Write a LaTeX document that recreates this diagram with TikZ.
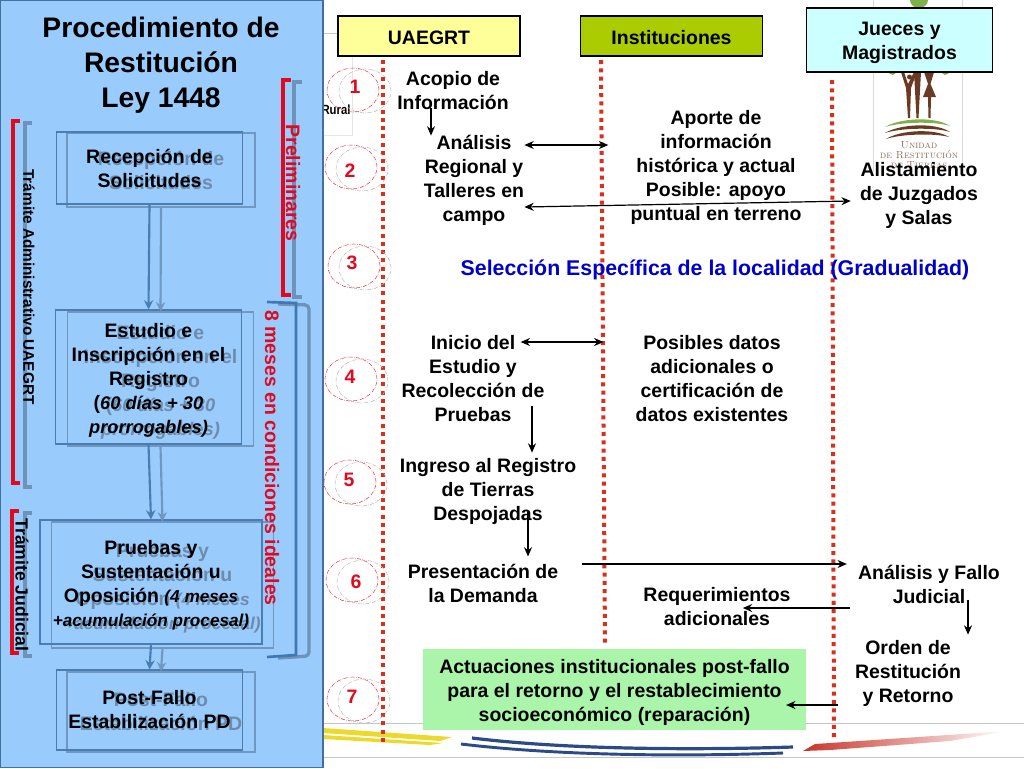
\documentclass[tikz,border=0pt]{standalone}
\usepackage{fontspec}
\setsansfont{Liberation Sans}
\usepackage{xcolor}
\usepackage{tikz}
\usetikzlibrary{arrows.meta, calc, shapes.geometric}

\definecolor{panelblue}{HTML}{9ACBFD}
\definecolor{panelline}{HTML}{44709E}
\definecolor{boxline}{HTML}{4A7DB3}
\definecolor{ghostline}{HTML}{6F97C0}
\definecolor{ghosttext}{HTML}{6D8CAB}
\definecolor{lanered}{HTML}{D8301C}
\definecolor{bracketred}{HTML}{E00A20}
\definecolor{bracketgray}{HTML}{6E93B8}
\definecolor{bracketblue}{HTML}{3F78B4}
\definecolor{logobrown}{HTML}{6B3A22}
\definecolor{logotext}{HTML}{8C6C58}
\definecolor{logogreen}{HTML}{7FB04A}
\definecolor{pencilyellow}{HTML}{EBD92C}
\definecolor{pencilblue}{HTML}{2B4A86}
\definecolor{pencilred}{HTML}{C8342A}

\newcommand{\bodysize}{\fontsize{14.6}{18}\selectfont}
\newcommand{\noteA}[1]{{\itshape\fontsize{13.7}{18}\selectfont #1}}
\newcommand{\noteB}[1]{{\itshape\fontsize{12.9}{18}\selectfont #1}}
\newcommand{\topstrut}{\rule{0pt}{15pt}}

\tikzset{
  flowtext/.style={align=center, inner sep=0pt, font=\sffamily\bfseries\bodysize},
  procbox/.style={draw=boxline, line width=0.8pt, align=center, inner sep=0pt, text=black, font=\sffamily\bfseries\bodysize},
  ghostbox/.style={draw=ghostline, line width=0.8pt, align=center, inner sep=0pt, text=ghosttext, font=\sffamily\bfseries\bodysize},
  lanebox/.style={draw=black, line width=0.8pt, align=center, inner sep=0pt, font=\sffamily\bfseries\bodysize},
  ring/.style={draw=bracketred!80, ellipse, densely dashdotted, line width=0.4pt, inner sep=0pt, minimum width=39pt, minimum height=33pt},
  ghostring/.style={draw=gray!55, ellipse, densely dashdotted, line width=0.4pt, inner sep=0pt, minimum width=39pt, minimum height=33pt},
  stepnum/.style={text=bracketred, inner sep=0pt, font=\sffamily\bfseries\bodysize},
  sidelabel/.style={rotate=-90, inner sep=0pt, font=\sffamily\bfseries},
  flowarrow/.style={line width=1.6pt, draw=boxline, -{Stealth[length=7pt, width=7pt]}},
  ghostarrow/.style={line width=1.6pt, draw=ghostline, -{Stealth[length=7pt, width=7pt]}},
  lanearrow/.style={line width=0.9pt, draw=black},
  laneline/.style={draw=lanered, line width=3pt, dash pattern=on 3pt off 3.2pt},
  bgline/.style={draw=gray!45, line width=0.6pt}
}

\begin{document}
\begin{tikzpicture}[x=0.75pt, y=-0.75pt, >={Stealth[length=7pt, width=6pt]}]
    \useasboundingbox (0,0) rectangle (1024,768);

    % slide behind the chart
    \draw[bgline] (323,33) -- (340,33);
    \draw[gray!20, line width=0.6pt] (352,33) -- (352,135) -- (323,135);
    \draw[bgline] (323,723) -- (1024,723);
    \draw[bgline] (323,757) -- (1024,757);
    \node[inner sep=0pt, xscale=0.85, font=\sffamily\bfseries\fontsize{10}{11}\selectfont] (rural) at (336,110) {Rural};

    % logo
    \draw[gray!30, line width=0.5pt] (873,0) -- (873,172);
    \draw[gray!30, line width=0.5pt] (962,0) -- (962,172);
    \fill[logogreen] (919,0) ellipse (9 and 8);
    \fill[logogreen] (886,72) -- (897,72) -- (893,75) -- cycle;
    \fill[logogreen] (940,72) -- (951,72) -- (945,75) -- cycle;
    \fill[logobrown] (901,72) -- (904,72) -- (908,84) -- (914,72) -- (917,72) -- (911,88) -- (910,118) -- (908,118) -- (906,88) -- cycle;
    \fill[logobrown] (909.5,77) circle (2.5);
    \fill[logobrown] (914,72) -- (921,72) -- (918.5,118) -- (916.5,118) -- cycle;
    \fill[logobrown] (924,72) -- (934,72) -- (930.5,84) -- (936,97) -- (931,97) -- (930.5,118) -- (928.5,118) -- (928,97) -- (923,97) -- (928,84) -- cycle;
    \fill[logogreen] (885,127) .. controls (900,118) and (935,116) .. (950,126) .. controls (935,121) and (900,122) .. (885,127) -- cycle;
    \fill[logobrown] (885,133) .. controls (900,124) and (935,122) .. (950,132) .. controls (935,127) and (900,128) .. (885,133) -- cycle;
    \fill[logobrown] (886,139) .. controls (900,130) and (935,128) .. (949,137) .. controls (935,133) and (900,134) .. (886,139) -- cycle;
    \node[align=center, inner sep=0pt, text=logotext, font=\rmfamily\scshape\fontsize{7.7}{7.6}\selectfont] (logotxt) at (919,155) {Unidad\\de Restitución\\de Tierras};

    % pencil strokes along the foot of the slide
    \fill[pencilyellow] (323,728) -- (452,737) -- (440,741) -- (323,733) -- cycle;
    \fill[pencilyellow] (323,735) -- (443,743) -- (430,745) -- (323,739) -- cycle;
    \draw[pencilblue, line width=2.4pt] (472,738) .. controls (570,750) and (700,750) .. (793,747);
    \draw[pencilblue, line width=2.2pt] (461,744) .. controls (570,757) and (700,756) .. (783,753);
    \shade[left color=pencilred, middle color=pencilred!85, right color=white] (803,751) -- (815,744) -- (1007,731) -- (950,741) -- (830,750) -- cycle;

    % left panel
    \fill[panelblue] (0,0) rectangle (323,768);
    \draw[panelline, line width=1.2pt] (0.5,0.5) rectangle (323,767.5);
    \node[align=center, inner sep=0pt, font=\sffamily\bfseries\fontsize{21.2}{26.2}\selectfont] (title) at (161,65)
    {Procedimiento de\\Restitución\\Ley 1448};

    \node[ghostbox, minimum width=141pt, minimum height=55.5pt] (recepcionb) at (161,170)
    {Recepción de\\Solicitudes};
    \node[ghostbox, minimum width=140pt, minimum height=100.5pt] (estudiob) at (160.5,379)
    {\topstrut Estudio e\\Inscripción en el\\Registro\\(\noteA{60 días + 30}\\\noteA{prorrogables)}};
    \node[ghostbox, minimum width=167pt, minimum height=94.5pt] (pruebasb) at (162.5,585)
    {\topstrut Pruebas y\\Sustentación u\\Oposición \noteB{(4 meses}\\\noteB{+acumulación procesal)}};
    \node[ghostbox, minimum width=141pt, minimum height=60pt] (postb) at (161,712)
    {Post-Fallo\\Estabilización PD};

    \node[procbox, minimum width=140pt, minimum height=54pt] (recepcion) at (149.5,168)
    {Recepción de\\Solicitudes};
    \node[procbox, minimum width=140pt, minimum height=100.5pt] (estudio) at (148.5,377)
    {\topstrut Estudio e\\Inscripción en el\\Registro\\(\noteA{60 días + 30}\\\noteA{prorrogables)}};
    \node[procbox, minimum width=166.5pt, minimum height=93pt] (pruebas) at (151,582)
    {\topstrut Pruebas y\\Sustentación u\\Oposición \noteB{(4 meses}\\\noteB{+acumulación procesal)}};
    \node[procbox, minimum width=140pt, minimum height=60pt] (post) at (149.5,710)
    {Post-Fallo\\Estabilización PD};

    \draw[ghostarrow] (recepcionb.south) -- (estudiob.north);
    \draw[ghostarrow] (estudiob.south) -- (pruebasb.north);
    \draw[ghostarrow] (pruebasb.south) -- (postb.north);
    \draw[flowarrow] (recepcion.south) -- (estudio.north);
    \draw[flowarrow] (estudio.south) -- (pruebas.north);
    \draw[flowarrow] (pruebas.south) -- (post.north);

    % brackets and side labels
    \draw[bracketgray, line width=2.5pt] (32,123) -- (25,123) -- (25,487) -- (32,487);
    \draw[bracketred, line width=2.3pt] (20,121) -- (13,121) -- (13,483) -- (20,483);
    \draw[bracketgray, line width=2.5pt] (32,513) -- (25,513) -- (25,656) -- (32,656);
    \draw[bracketred, line width=2.3pt] (19,511) -- (12,511) -- (12,653) -- (19,653);
    \draw[bracketgray, line width=2.5pt] (302,82) -- (294,82) -- (294,297) -- (302,297);
    \draw[bracketred, line width=2.3pt] (291,80) -- (283,80) -- (283,295) -- (291,295);
    \draw[bracketgray, line width=2.5pt, rounded corners=3pt] (278,304) -- (309,305) -- (309,656) -- (278,658);
    \draw[bracketblue, line width=2pt] (267,302) -- (296,303) -- (296,655) -- (267,657);
    \node[sidelabel, font=\sffamily\bfseries\fontsize{11.5}{14}\selectfont] (tramiteadmin) at (29,287) {Trámite Administrativo UAEGRT};
    \node[sidelabel, font=\sffamily\bfseries\fontsize{13.2}{16}\selectfont] (tramitejud) at (22,585) {Trámite Judicial};
    \node[sidelabel, text=bracketred, font=\sffamily\bfseries\bodysize] (preliminares) at (293,183) {Preliminares};
    \node[sidelabel, text=bracketred, font=\sffamily\bfseries\bodysize] (ochomeses) at (272,458) {8 meses en condiciones ideales};

    % lanes
    \node[lanebox, fill={rgb,255:red,255;green,255;blue,153}, minimum width=136.5pt, minimum height=30pt, text height=13pt] (uaegrt) at (429,36) {UAEGRT};
    \node[lanebox, fill={rgb,255:red,170;green,204;blue,0}, minimum width=136.5pt, minimum height=30pt, text height=13pt] (instituciones) at (671.5,36) {Instituciones};
    \node[lanebox, fill={rgb,255:red,204;green,255;blue,255}, minimum width=139pt, minimum height=48pt] (jueces) at (899.5,40) {\topstrut Jueces y\\Magistrados};
    \draw[laneline] (383,60) -- (383,745);
    \draw[laneline] (601,60) -- (605,645);
    \draw[laneline] (832,80) -- (834,741);

    % numbered steps
    \node[ghostring] (ringb1) at (365,91) {};
    \node[ring] (ring1) at (353,90) {};
    \node[stepnum] (num1) at (355,87) {1};
    \node[ghostring] (ringb2) at (362,169) {};
    \node[ring] (ring2) at (351,167) {};
    \node[stepnum] (num2) at (350,171) {2};
    \node[ghostring] (ringb3) at (365,268) {};
    \node[ring] (ring3) at (354,266) {};
    \node[stepnum] (num3) at (352,263) {3};
    \node[ghostring] (ringb4) at (362,381) {};
    \node[ring] (ring4) at (351,379) {};
    \node[stepnum] (num4) at (350,377) {4};
    \node[ghostring] (ringb5) at (361,484) {};
    \node[ring] (ring5) at (350,482) {};
    \node[stepnum] (num5) at (349,480) {5};
    \node[ghostring] (ringb6) at (363,582) {};
    \node[ring] (ring6) at (352,580) {};
    \node[stepnum] (num6) at (356,582) {6};
    \node[ghostring] (ringb7) at (364,701) {};
    \node[ring] (ring7) at (353,699) {};
    \node[stepnum] (num7) at (352,697) {7};

    % activities
    \node[flowtext] (acopio) at (453,91) {Acopio de\\Información};
    \node[flowtext] (analisis) at (474,180) {Análisis\\Regional y\\Talleres en\\campo};
    \node[flowtext] (aporte) at (716,167) {Aporte de\\información\\histórica y actual\\Posible: apoyo\\puntual en terreno};
    \node[flowtext] (alistamiento) at (919,195) {Alistamiento\\de Juzgados\\y Salas};
    \node[flowtext, text={rgb,255:red,0;green,0;blue,204}, font=\sffamily\bfseries\fontsize{16}{18}\selectfont] (seleccion) at (715,270) {Selección Específica de la localidad (Gradualidad)};
    \node[flowtext] (inicio) at (473,379) {Inicio del\\Estudio y\\Recolección de\\Pruebas};
    \node[flowtext] (posibles) at (712,379) {Posibles datos\\adicionales o\\certificación de\\datos existentes};
    \node[flowtext] (ingreso) at (488,491) {Ingreso al Registro\\de Tierras\\Despojadas};
    \node[flowtext] (presentacion) at (483,583) {Presentación de\\la Demanda};
    \node[flowtext] (fallo) at (929,584) {Análisis y Fallo\\Judicial};
    \node[flowtext] (requerimientos) at (717,607) {Requerimientos\\adicionales};
    \node[flowtext] (orden) at (908,673) {Orden de\\Restitución\\y Retorno};
    \node[flowtext, fill={rgb,255:red,170;green,245;blue,170}, minimum width=287pt, minimum height=61pt] (posfallo) at (614.5,689.5)
    {\topstrut Actuaciones institucionales post-fallo\\para el retorno y el restablecimiento\\socioeconómico (reparación)};

    \draw[lanearrow, ->] ($(acopio.south)+(-22,-2)$) -- ($(analisis.north)+(-43,1)$);
    \draw[lanearrow, <->] ($(analisis.east)+(0,-35)$) -- ($(aporte.west)+(-22,-22)$);
    \draw[lanearrow, <->] ($(analisis.east)+(0,27)$) -- ($(alistamiento.west)+(-9,6)$);
    \draw[lanearrow, <->] ($(inicio.east)+(-24,-37)$) -- ($(posibles.west)+(-32,-37)$);
    \draw[lanearrow, ->] ($(inicio.south)+(59,-16)$) -- ($(ingreso.north)+(44,-5)$);
    \draw[lanearrow, ->] ($(ingreso.south)+(40,-12)$) -- ($(presentacion.north)+(45,-7)$);
    \draw[lanearrow, ->] ($(presentacion.east)+(24,-19)$) -- ($(fallo.west)+(-11,-20)$);
    \draw[lanearrow, ->] ($(fallo.west)+(-8,24)$) -- ($(requerimientos.east)+(-48,1)$);
    \draw[lanearrow, ->] ($(fallo.south)+(39,-4)$) -- ($(orden.north)+(60,-5)$);
    \draw[lanearrow, ->] ($(orden.west)+(-17,32)$) -- ($(posfallo.east)+(-20,15.5)$);
\end{tikzpicture}
\end{document}
